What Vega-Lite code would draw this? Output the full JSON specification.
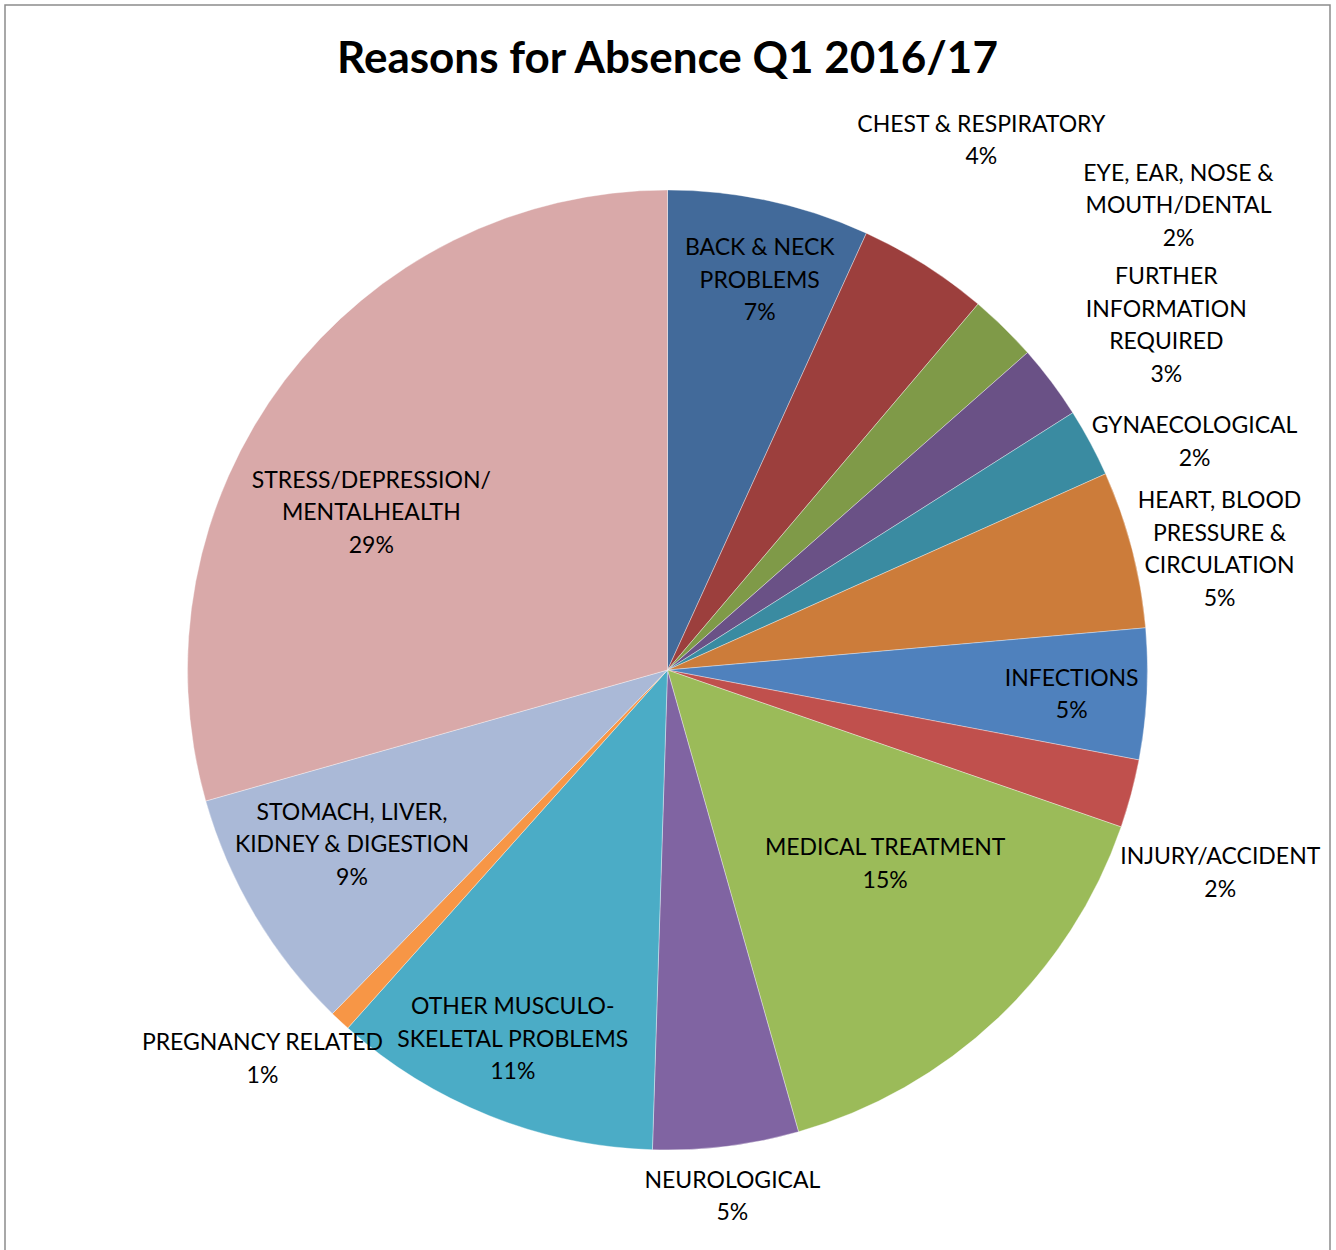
{
  "$schema": "https://vega.github.io/schema/vega-lite/v6.json",
  "width": 1325,
  "height": 1330,
  "autosize": "none",
  "padding": {"left": 5, "top": 5, "right": 6, "bottom": 0},
  "title": {
    "text": "Reasons for Absence Q1 2016/17",
    "font": "Lato",
    "fontSize": 44,
    "fontWeight": "bold",
    "color": "#000000",
    "anchor": "middle",
    "baseline": "alphabetic",
    "offset": -121,
    "dy": 34
  },
  "config": {
    "view": {"stroke": null},
    "text": {"font": "Lato", "fontSize": 23, "color": "#000000", "lineBreak": "\n", "lineHeight": 32.5, "align": "center", "baseline": "middle"}
  },
  "layer": [
    {
      "data": {"values": [{"frame": "outer"}]},
      "mark": {"type": "rect", "fill": null, "fillOpacity": 0, "stroke": "#8c8c8c", "strokeWidth": 1.5}
    },
    {
      "data": {
        "values": [
          {"category": "BACK & NECK PROBLEMS", "v": 6.8, "label": "BACK & NECK\nPROBLEMS\n7%"},
          {"category": "CHEST & RESPIRATORY", "v": 4.4, "label": "CHEST & RESPIRATORY\n4%"},
          {"category": "EYE, EAR, NOSE & MOUTH/DENTAL", "v": 2.3, "label": "EYE, EAR, NOSE &\nMOUTH/DENTAL\n2%"},
          {"category": "FURTHER INFORMATION REQUIRED", "v": 2.5, "label": "FURTHER\nINFORMATION\nREQUIRED\n3%"},
          {"category": "GYNAECOLOGICAL", "v": 2.3, "label": "GYNAECOLOGICAL\n2%"},
          {"category": "HEART, BLOOD PRESSURE & CIRCULATION", "v": 5.3, "label": "HEART, BLOOD\nPRESSURE &\nCIRCULATION\n5%"},
          {"category": "INFECTIONS", "v": 4.4, "label": "INFECTIONS\n5%"},
          {"category": "INJURY/ACCIDENT", "v": 2.3, "label": "INJURY/ACCIDENT\n2%"},
          {"category": "MEDICAL TREATMENT", "v": 15.3, "label": "MEDICAL TREATMENT\n15%"},
          {"category": "NEUROLOGICAL", "v": 4.9, "label": "NEUROLOGICAL\n5%"},
          {"category": "OTHER MUSCULO-SKELETAL PROBLEMS", "v": 11.1, "label": "OTHER MUSCULO-\nSKELETAL PROBLEMS\n11%"},
          {"category": "PREGNANCY RELATED", "v": 0.7, "label": "PREGNANCY RELATED\n1%"},
          {"category": "STOMACH, LIVER, KIDNEY & DIGESTION", "v": 8.3, "label": "STOMACH, LIVER,\nKIDNEY & DIGESTION\n9%"},
          {"category": "STRESS/DEPRESSION/MENTALHEALTH", "v": 29.4, "label": "STRESS/DEPRESSION/\nMENTALHEALTH\n29%"}
        ]
      },
      "encoding": {
        "theta": {"field": "v", "type": "quantitative", "stack": true},
        "order": {"field": "category", "type": "ordinal", "sort": "ascending"}
      },
      "layer": [
        {
          "mark": {"type": "arc", "outerRadius": 480, "stroke": "#ffffff", "strokeWidth": 0.6, "strokeOpacity": 0.6},
          "encoding": {
            "color": {
              "field": "category",
              "type": "nominal",
              "legend": null,
              "scale": {
                "domain": ["BACK & NECK PROBLEMS", "CHEST & RESPIRATORY", "EYE, EAR, NOSE & MOUTH/DENTAL", "FURTHER INFORMATION REQUIRED", "GYNAECOLOGICAL", "HEART, BLOOD PRESSURE & CIRCULATION", "INFECTIONS", "INJURY/ACCIDENT", "MEDICAL TREATMENT", "NEUROLOGICAL", "OTHER MUSCULO-SKELETAL PROBLEMS", "PREGNANCY RELATED", "STOMACH, LIVER, KIDNEY & DIGESTION", "STRESS/DEPRESSION/MENTALHEALTH"],
                "range": ["#426A9A", "#9C3F3D", "#7F9A48", "#6A5186", "#3A8BA1", "#CC7C3A", "#4F81BD", "#C0504D", "#9BBB59", "#8064A2", "#4BACC6", "#F79646", "#AAB9D7", "#D9A9A9"]
              }
            }
          }
        },
        {"mark": {"type": "text", "radius": 400, "thetaOffset": 0.019, "dy": -32.5},
         "encoding": {"text": {"condition": {"test": "datum.category === 'BACK & NECK PROBLEMS'", "field": "label"}, "value": ""}}},
        {"mark": {"type": "text", "radius": 615, "thetaOffset": -0.030, "dy": -16.25},
         "encoding": {"text": {"condition": {"test": "datum.category === 'CHEST & RESPIRATORY'", "field": "label"}, "value": ""}}},
        {"mark": {"type": "text", "radius": 690, "thetaOffset": 0.058, "dy": -32.5},
         "encoding": {"text": {"condition": {"test": "datum.category === 'EYE, EAR, NOSE & MOUTH/DENTAL'", "field": "label"}, "value": ""}}},
        {"mark": {"type": "text", "radius": 606, "thetaOffset": 0.040, "dy": -48.75},
         "encoding": {"text": {"condition": {"test": "datum.category === 'FURTHER INFORMATION REQUIRED'", "field": "label"}, "value": ""}}},
        {"mark": {"type": "text", "radius": 574, "thetaOffset": 0.086, "dy": -16.25},
         "encoding": {"text": {"condition": {"test": "datum.category === 'GYNAECOLOGICAL'", "field": "label"}, "value": ""}}},
        {"mark": {"type": "text", "radius": 565, "thetaOffset": 0.040, "dy": -48.75},
         "encoding": {"text": {"condition": {"test": "datum.category === 'HEART, BLOOD PRESSURE & CIRCULATION'", "field": "label"}, "value": ""}}},
        {"mark": {"type": "text", "radius": 405, "thetaOffset": 0.012, "dy": -16.25},
         "encoding": {"text": {"condition": {"test": "datum.category === 'INFECTIONS'", "field": "label"}, "value": ""}}},
        {"mark": {"type": "text", "radius": 589, "thetaOffset": 0.092, "dy": -16.25},
         "encoding": {"text": {"condition": {"test": "datum.category === 'INJURY/ACCIDENT'", "field": "label"}, "value": ""}}},
        {"mark": {"type": "text", "radius": 292, "thetaOffset": -0.084, "dy": -16.25},
         "encoding": {"text": {"condition": {"test": "datum.category === 'MEDICAL TREATMENT'", "field": "label"}, "value": ""}}},
        {"mark": {"type": "text", "radius": 531, "thetaOffset": 0, "dy": -16.25},
         "encoding": {"text": {"condition": {"test": "datum.category === 'NEUROLOGICAL'", "field": "label"}, "value": ""}}},
        {"mark": {"type": "text", "radius": 401, "thetaOffset": 0.016, "dy": -32.5},
         "encoding": {"text": {"condition": {"test": "datum.category === 'OTHER MUSCULO-SKELETAL PROBLEMS'", "field": "label"}, "value": ""}}},
        {"mark": {"type": "text", "radius": 562, "thetaOffset": 0.054, "dy": -16.25},
         "encoding": {"text": {"condition": {"test": "datum.category === 'PREGNANCY RELATED'", "field": "label"}, "value": ""}}},
        {"mark": {"type": "text", "radius": 361, "thetaOffset": 0.030, "dy": -32.5},
         "encoding": {"text": {"condition": {"test": "datum.category === 'STOMACH, LIVER, KIDNEY & DIGESTION'", "field": "label"}, "value": ""}}},
        {"mark": {"type": "text", "radius": 335, "thetaOffset": -0.161, "dy": -32.5},
         "encoding": {"text": {"condition": {"test": "datum.category === 'STRESS/DEPRESSION/MENTALHEALTH'", "field": "label"}, "value": ""}}}
      ]
    }
  ]
}
